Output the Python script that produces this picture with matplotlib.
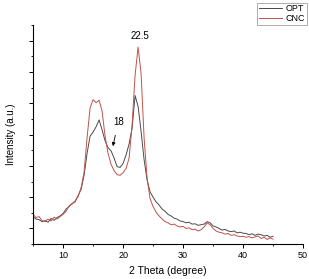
import matplotlib

matplotlib.use("Agg")
import matplotlib.pyplot as plt
import numpy as np
from matplotlib.ticker import MultipleLocator, NullFormatter

plt.rcParams["font.family"] = ["Liberation Sans", "DejaVu Sans"]

# 2 theta grid (degree)
two_theta = np.arange(5.0, 45.01, 0.5)

# intensities (a.u.)
cnc = [
    1.45, 1.35, 1.38, 1.25, 1.22, 1.30, 1.24, 1.36, 1.30, 1.38,
    1.45, 1.55, 1.72, 1.78, 1.88, 2.02, 2.30, 2.80, 3.90, 4.85,
    5.12, 5.02, 5.10, 4.75, 3.95, 3.40, 3.05, 2.85, 2.72, 2.70,
    2.78, 2.92, 3.25, 4.30, 5.90, 6.80, 5.95, 3.90, 2.60, 1.95,
    1.70, 1.52, 1.40, 1.30, 1.22, 1.18, 1.12, 1.14, 1.08, 1.05,
    1.07, 1.00, 1.02, 0.96, 0.98, 0.92, 0.96, 1.05, 1.18, 1.12,
    1.00, 0.92, 0.88, 0.86, 0.82, 0.84, 0.78, 0.80, 0.76, 0.74,
    0.75, 0.72, 0.74, 0.70, 0.73, 0.76, 0.68, 0.72, 0.65, 0.70,
    0.66,
]
opt = [
    1.38, 1.30, 1.28, 1.22, 1.25, 1.20, 1.32, 1.26, 1.35, 1.40,
    1.48, 1.62, 1.70, 1.80, 1.85, 2.05, 2.25, 2.70, 3.40, 3.95,
    4.08, 4.25, 4.47, 4.15, 3.80, 3.58, 3.48, 3.25, 2.98, 2.95,
    3.08, 3.35, 3.70, 4.20, 5.25, 4.90, 4.10, 3.20, 2.55, 2.17,
    2.00, 1.85, 1.75, 1.62, 1.55, 1.45, 1.40, 1.33, 1.30, 1.24,
    1.22, 1.18, 1.20, 1.14, 1.15, 1.10, 1.12, 1.14, 1.22, 1.18,
    1.08, 1.05, 1.00, 0.95, 0.97, 0.92, 0.90, 0.92, 0.86, 0.88,
    0.85, 0.84, 0.80, 0.83, 0.78, 0.82, 0.80, 0.76, 0.78, 0.72,
    0.75,
]

GRAY = "#4a4a4a"
RED = "#c0524a"

fig = plt.figure(figsize=(3.09, 2.79), dpi=100)
ax = fig.add_axes([0.107, 0.125, 0.874, 0.785])

ax.plot(two_theta, opt, color=GRAY, linewidth=0.7, label="OPT")
ax.plot(two_theta, cnc, color=RED, linewidth=0.7, label="CNC")

ax.set_xlim(5, 50)
ax.set_ylim(0.5, 7.5)
ax.xaxis.set_major_locator(MultipleLocator(10))
ax.xaxis.set_minor_locator(MultipleLocator(5))
ax.yaxis.set_major_locator(MultipleLocator(1))
ax.yaxis.set_minor_locator(MultipleLocator(0.5))
ax.yaxis.set_major_formatter(NullFormatter())

ax.spines[["top", "right"]].set_visible(False)
ax.spines[["left", "bottom"]].set_linewidth(0.8)
ax.tick_params(which="major", length=3, width=0.7, labelsize=6.5, pad=2)
ax.tick_params(which="minor", length=1.6, width=0.6)

ax.set_xlabel("2 Theta (degree)", fontsize=7.5, labelpad=4)
ax.set_ylabel("Intensity (a.u.)", fontsize=7, labelpad=7)

ax.text(22.8, 7.15, "22.5", fontsize=7, ha="center", va="center")
ax.annotate("18", xy=(18.3, 3.63), xytext=(19.2, 4.4), fontsize=7,
            ha="center", va="center",
            arrowprops=dict(arrowstyle="-|>", color="black", lw=0.6,
                            mutation_scale=5, shrinkA=4, shrinkB=0))

leg = ax.legend(loc="upper right", bbox_to_anchor=(1.015, 1.103),
                fontsize=6.5, frameon=True, fancybox=False,
                handlelength=2.6, handletextpad=0.4, borderpad=0.2,
                labelspacing=0.05, borderaxespad=0)
leg.get_frame().set_edgecolor("#888888")
leg.get_frame().set_linewidth(0.6)

fig.savefig("out.png", dpi=100)
